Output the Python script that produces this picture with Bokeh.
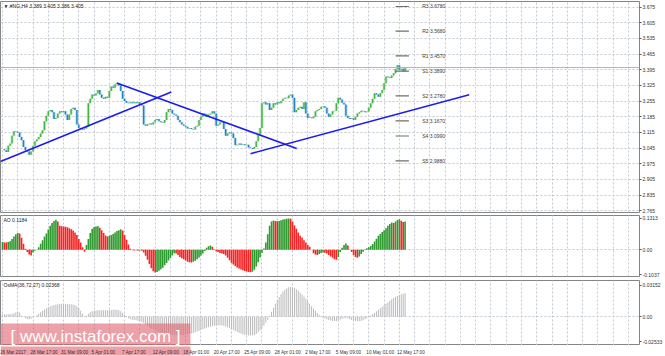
from bokeh.plotting import figure
from bokeh.layouts import column
from bokeh.models import FixedTicker, NumeralTickFormatter, Label, Range1d, Span, BoxAnnotation
from bokeh.embed import file_html
from bokeh.resources import INLINE
from bokeh.core.properties import value

# ---------------- data ----------------
chart_title = "\u25bc #NG,H4 3.389 3.405 3.386 3.405"
last_price = 3.405

closes = [
    3.040, 3.035, 3.028, 3.055, 3.065, 3.100, 3.120, 3.118, 3.115, 3.095,
    3.080, 3.050, 3.035, 3.030, 3.015, 3.030, 3.055, 3.075, 3.085, 3.095,
    3.110, 3.125, 3.165, 3.190, 3.210, 3.215, 3.205, 3.175, 3.180, 3.200,
    3.210, 3.205, 3.210, 3.195, 3.170, 3.195, 3.220, 3.225, 3.215, 3.150,
    3.135, 3.130, 3.128, 3.132, 3.140, 3.245, 3.265, 3.285, 3.280, 3.290,
    3.305, 3.285, 3.270, 3.265, 3.275, 3.270, 3.300, 3.320, 3.315, 3.330,
    3.335, 3.325, 3.300, 3.265, 3.255, 3.248, 3.245, 3.250, 3.245, 3.250,
    3.245, 3.250, 3.240, 3.235, 3.150, 3.145, 3.152, 3.155, 3.150, 3.160,
    3.170, 3.175, 3.165, 3.160, 3.158, 3.170, 3.205, 3.220, 3.215, 3.200,
    3.195, 3.190, 3.170, 3.160, 3.150, 3.145, 3.140, 3.132, 3.135, 3.130,
    3.128, 3.140, 3.145, 3.170, 3.185, 3.200, 3.195, 3.185, 3.195, 3.200,
    3.210, 3.200, 3.145, 3.150, 3.160, 3.162, 3.130, 3.100, 3.110, 3.115,
    3.110, 3.090, 3.058, 3.060, 3.065, 3.060, 3.062, 3.058, 3.060, 3.048,
    3.045, 3.042, 3.050, 3.075, 3.105, 3.135, 3.245, 3.250, 3.240, 3.245,
    3.215, 3.225, 3.245, 3.240, 3.250, 3.245, 3.255, 3.265, 3.270, 3.268,
    3.280, 3.285, 3.270, 3.205, 3.215, 3.225, 3.230, 3.220, 3.250, 3.200,
    3.180, 3.182, 3.178, 3.185, 3.210, 3.215, 3.220, 3.230, 3.232, 3.225,
    3.200, 3.185, 3.195, 3.210, 3.212, 3.245, 3.270, 3.262, 3.248, 3.240,
    3.190, 3.180, 3.175, 3.178, 3.172, 3.185, 3.200, 3.205, 3.212, 3.210,
    3.205, 3.208, 3.225, 3.245, 3.265, 3.290, 3.285, 3.275, 3.290, 3.305,
    3.335, 3.365, 3.362, 3.358, 3.370, 3.380, 3.398, 3.415, 3.395, 3.400,
    3.389, 3.405,
]

ao_values = [
    0.032, 0.030, 0.030, 0.032, 0.035, 0.045, 0.055, 0.065, 0.070, 0.068,
    0.050, 0.025, 0.004, -0.010, -0.020, -0.024, -0.012, -0.004, 0.000, 0.010,
    0.025, 0.040, 0.055, 0.068, 0.085, 0.100, 0.112, 0.120, 0.125, 0.118,
    0.100, 0.098, 0.097, 0.096, 0.094, 0.090, 0.086, 0.080, 0.072, 0.062,
    0.045, 0.030, 0.010, -0.008, 0.020, 0.045, 0.070, 0.088, 0.095, 0.097,
    0.099, 0.092, 0.082, 0.070, 0.060, 0.055, 0.058, 0.062, 0.066, 0.072,
    0.078, 0.082, 0.086, 0.080, 0.062, 0.042, 0.022, 0.004, -0.002, -0.003,
    -0.002, -0.004, -0.003, -0.004, -0.012, -0.025, -0.042, -0.060, -0.078, -0.090,
    -0.095, -0.093, -0.088, -0.082, -0.075, -0.065, -0.055, -0.045, -0.035, -0.024,
    -0.015, -0.016, -0.022, -0.030, -0.036, -0.040, -0.045, -0.050, -0.052, -0.053,
    -0.050, -0.046, -0.040, -0.032, -0.024, -0.016, -0.005, 0.008, 0.015, 0.018,
    0.012, 0.002, -0.006, -0.010, -0.014, -0.016, -0.018, -0.024, -0.034, -0.044,
    -0.054, -0.062, -0.068, -0.074, -0.079, -0.083, -0.086, -0.089, -0.091, -0.093,
    -0.094, -0.092, -0.084, -0.070, -0.052, -0.032, -0.014, 0.005, 0.030, 0.065,
    0.100, 0.118, 0.122, 0.120, 0.119, 0.120, 0.123, 0.126, 0.128, 0.130,
    0.131, 0.130, 0.118, 0.102, 0.088, 0.072, 0.058, 0.050, 0.040, 0.030,
    0.020, 0.012, 0.000, -0.015, -0.020, -0.022, -0.018, -0.014, -0.012, -0.013,
    -0.016, -0.022, -0.028, -0.034, -0.040, -0.042, -0.030, -0.010, 0.008, 0.020,
    0.026, 0.018, 0.000, -0.010, -0.022, -0.030, -0.034, -0.028, -0.018, -0.008,
    0.002, 0.006, 0.010, 0.016, 0.024, 0.034, 0.046, 0.058, 0.066, 0.074,
    0.082, 0.090, 0.100, 0.108, 0.114, 0.112, 0.118, 0.124, 0.127, 0.121,
    0.116, 0.1184,
]

osma_values = [
    0.0025, 0.0025, 0.0024, 0.0025, 0.0027, 0.0030, 0.0035,
    0.0045, 0.0048, 0.0042,
    0.0010, -0.0005, -0.0015, -0.0022, -0.0025, -0.0020,
    -0.0010, 0.0000, 0.0015, 0.0030, 0.0045, 0.0058,
    0.0070, 0.0085, 0.0095, 0.0105, 0.0112, 0.0118, 0.0122,
    0.0125, 0.0128, 0.0130, 0.0131, 0.0130, 0.0128, 0.0126, 0.0125, 0.0122, 0.0118,
    0.0105, 0.0088, 0.0060,
    0.0030, 0.0005, 0.0010,
    0.0030, 0.0045, 0.0055, 0.0060, 0.0063, 0.0065,
    0.0066, 0.0065, 0.0064, 0.0065, 0.0066, 0.0066, 0.0068, 0.0070, 0.0072, 0.0070, 0.0066,
    0.0055, 0.0040, 0.0022, 0.0005,
    -0.0015, -0.0025, -0.0030, -0.0032,
    -0.0035, -0.0040, -0.0045, -0.0052, -0.0060,
    -0.0075, -0.0090, -0.0105, -0.0118, -0.0130, -0.0140, -0.0148, -0.0155, -0.0162,
    -0.0168, -0.0172, -0.0176, -0.0180, -0.0183, -0.0185, -0.0186, -0.0187, -0.0187,
    -0.0186, -0.0185, -0.0183, -0.0180, -0.0176,
    -0.0172, -0.0168, -0.0163, -0.0157, -0.0150, -0.0142, -0.0134, -0.0126,
    -0.0118, -0.0110, -0.0104, -0.0098, -0.0094, -0.0090, -0.0088, -0.0087, -0.0086, -0.0087, -0.0092,
    -0.0098, -0.0106, -0.0115, -0.0125, -0.0135, -0.0145, -0.0155,
    -0.0163, -0.0170, -0.0176, -0.0181, -0.0185, -0.0188, -0.0190, -0.0189, -0.0185,
    -0.0175, -0.0160, -0.0140, -0.0115, -0.0088, -0.0060,
    -0.0030,
    0.0010, 0.0050, 0.0090, 0.0130, 0.0165, 0.0198, 0.0228, 0.0253, 0.0273, 0.0288,
    0.0298, 0.0300, 0.0298,
    0.0290, 0.0278, 0.0263, 0.0245, 0.0225, 0.0203, 0.0180, 0.0155, 0.0130, 0.0105, 0.0080,
    0.0058, 0.0038, 0.0020, 0.0005, -0.0008, -0.0018, -0.0026,
    -0.0032, -0.0038, -0.0042, -0.0044, -0.0042, -0.0036,
    -0.0028, -0.0020, -0.0015, -0.0014, -0.0018,
    -0.0025, -0.0032, -0.0038, -0.0043, -0.0046, -0.0046, -0.0043, -0.0036, -0.0026,
    -0.0014, -0.0002, 0.0012, 0.0026,
    0.0040, 0.0055, 0.0070, 0.0085, 0.0100, 0.0115, 0.0130, 0.0145, 0.0160,
    0.0175, 0.0188, 0.0200, 0.0210, 0.0220, 0.0227, 0.0232, 0.02368,
]

price_ticks = [3.675, 3.605, 3.535, 3.465, 3.395, 3.325, 3.255, 3.185,
               3.115, 3.045, 2.975, 2.905, 2.835, 2.765]

pivot_names = ["R3", "R2", "R1", "S1", "S2", "S3", "S4", "S5"]
pivot_levels = [3.6780, 3.5680, 3.4570, 3.3890, 3.2780, 3.1670, 3.0990, 2.9880]

# trend lines: start bar, start price, end bar, end price
trend_x0 = [-1.04, 59.9, 130.0]
trend_y0 = [2.985, 3.336, 3.020]
trend_x1 = [88.5, 154.2, 244.6]
trend_y1 = [3.296, 3.043, 3.283]

ao_title = "AO 0.1184"
ao_ticks = [0.1313, 0.0, -0.1037]
ao_tick_labels = ["0.1313", "0.00", "-0.1037"]

osma_title = "OsMA(36,72,27) 0.02368"
osma_ticks = [0.03152, 0.0, -0.02533]
osma_tick_labels = ["0.03152", "0.00", "-0.02533"]

date_labels = ["26 Mar 2017", "28 Mar 17:00", "31 Mar 09:00", "5 Apr 01:00",
               "7 Apr 17:00", "12 Apr 09:00", "18 Apr 01:00", "20 Apr 17:00",
               "25 Apr 09:00", "28 Apr 01:00", "2 May 17:00", "5 May 09:00",
               "10 May 01:00", "12 May 17:00"]
date_bars = [0, 16, 32, 48, 64, 80, 96, 112, 128, 144, 160, 176, 192, 208]

watermark = "[ www.instaforex.com ]"

# ---------------- layout constants ----------------
FONT = "Liberation Sans"
TINY = "5px"
DATE_FONT = "4.6px"
W = 665
RIGHT = 22
FRAME_W = W - RIGHT
PX_PER_BAR = 1.92
X0_PX = 2.0
GRID = "#c3c9d2"
OUTLINE = "#858585"
UP = "#45b444"
DOWN = "#1f84c6"
WM_COLOR = "#e0606c"
WM_ALPHA = 0.6

xr = Range1d(-X0_PX / PX_PER_BAR, (FRAME_W - X0_PX) / PX_PER_BAR)


def base(height, yr, top, bottom):
    p = figure(width=W, height=height, x_range=xr, y_range=yr,
               output_backend="svg", toolbar_location=None,
               x_axis_location=None, y_axis_location="right",
               min_border_left=0, min_border_right=RIGHT,
               min_border_top=top, min_border_bottom=bottom)
    p.outline_line_color = OUTLINE
    p.outline_line_width = 1
    p.background_fill_color = "white"
    p.border_fill_color = "white"
    ax = p.yaxis[0]
    ax.axis_line_color = None
    ax.major_tick_line_color = "#555555"
    ax.major_tick_out = 2
    ax.major_tick_in = 0
    ax.minor_tick_line_color = None
    ax.major_label_standoff = 1
    ax.major_label_text_font = FONT
    ax.major_label_text_font_size = TINY
    ax.major_label_text_color = "#333333"
    p.xgrid.ticker = FixedTicker(ticks=list(range(0, 340, 8)))
    for g in (p.xgrid, p.ygrid):
        g.grid_line_color = GRID
        g.grid_line_dash = "2 2"
        g.grid_line_width = 1
    return p


def corner_label(p, frame_h, text):
    p.add_layout(Label(x=3, y=frame_h - 1.5, x_units="screen", y_units="screen",
                       text=text, text_font=FONT, text_font_size=TINY,
                       text_color="#222222", text_baseline="top", text_align="left"))


idx = list(range(len(closes)))
opens = [closes[0]] + closes[:-1]
bar_colors = [UP if c >= o else DOWN for o, c in zip(opens, closes)]

# ---------------- main price panel ----------------
p1 = base(213, Range1d(2.757, 3.7003), 1, 1)
p1.yaxis[0].ticker = FixedTicker(ticks=price_ticks)
p1.yaxis[0].formatter = NumeralTickFormatter(format="0.000")
p1.ygrid.ticker = FixedTicker(ticks=price_ticks)

p1.add_layout(Span(location=last_price, dimension="width",
                   line_color="#a7b6c6", line_width=1))
p1.segment(x0=idx, y0=opens, x1=idx, y1=closes, line_color=bar_colors,
           line_width=3.2, line_alpha=0.28)
p1.segment(x0=idx, y0=opens, x1=idx, y1=closes, line_color=bar_colors, line_width=1.4)
p1.segment(x0=trend_x0, y0=trend_y0, x1=trend_x1, y1=trend_y1,
           line_color="#1c1cf0", line_width=1.6)

n_piv = len(pivot_levels)
p1.segment(x0=[206] * n_piv, y0=pivot_levels, x1=[213] * n_piv, y1=pivot_levels,
           line_color="#6e6e6e", line_width=1.2)
p1.text(x=[220] * n_piv, y=pivot_levels,
        text=[f"{n} {v:.4f}" for n, v in zip(pivot_names, pivot_levels)],
        text_font=value(FONT), text_font_size=TINY, text_color="#3a3a3a",
        text_baseline="middle", text_align="left")
corner_label(p1, 211, chart_title)
p1.add_layout(Label(x=FRAME_W + 1, y=last_price, x_units="screen", y_units="data",
                    text=f"{last_price:.3f}", text_font=FONT, text_font_size=TINY,
                    text_color="white", text_baseline="middle", text_align="left",
                    background_fill_color="black", padding=1))

# ---------------- AO panel ----------------
p2 = base(64, Range1d(-0.112, 0.1432), 2, 1)
p2.yaxis[0].ticker = FixedTicker(ticks=ao_ticks)
p2.yaxis[0].major_label_overrides = dict(zip(ao_ticks, ao_tick_labels))
p2.ygrid.ticker = FixedTicker(ticks=[0.0])
ao_colors = ["#2f9a2f"] + ["#2f9a2f" if ao_values[i] > ao_values[i - 1] else "#f52525"
                           for i in range(1, len(ao_values))]
p2.vbar(x=list(range(len(ao_values))), top=ao_values, bottom=0, width=0.85,
        fill_color=ao_colors, line_color=None)
corner_label(p2, 61, ao_title)

# ---------------- OsMA panel ----------------
p3 = base(68, Range1d(-0.0290, 0.0365), 3, 0)
p3.yaxis[0].ticker = FixedTicker(ticks=osma_ticks)
p3.yaxis[0].major_label_overrides = dict(zip(osma_ticks, osma_tick_labels))
p3.ygrid.ticker = FixedTicker(ticks=[0.0])
p3.vbar(x=list(range(len(osma_values))), top=osma_values, bottom=0, width=0.5,
        fill_color="#b8b8b8", line_color=None)
corner_label(p3, 65, osma_title)

# watermark (upper part lives in the OsMA panel, canvas coords of that figure)
p3.add_layout(BoxAnnotation(left=0, right=190, top=46, bottom=80,
                            left_units="canvas", right_units="canvas",
                            top_units="canvas", bottom_units="canvas",
                            fill_color=WM_COLOR, fill_alpha=WM_ALPHA, line_color=None))
p3.add_layout(Label(x=95, y=59, x_units="canvas", y_units="canvas", text=watermark,
                    text_font=FONT, text_font_size="17px", text_color="white",
                    text_align="center", text_baseline="middle"))

# ---------------- date strip ----------------
p4 = figure(width=W, height=11, x_range=xr, y_range=Range1d(0, 11),
            output_backend="svg", toolbar_location=None,
            x_axis_location=None, y_axis_location=None,
            min_border_left=0, min_border_right=RIGHT, min_border_top=0, min_border_bottom=0)
p4.outline_line_color = None
p4.xgrid.visible = False
p4.ygrid.visible = False
p4.background_fill_color = "white"
p4.border_fill_color = "white"
p4.add_layout(BoxAnnotation(left=0, right=190, top=-5, bottom=9,
                            left_units="canvas", right_units="canvas",
                            top_units="canvas", bottom_units="canvas",
                            fill_color=WM_COLOR, fill_alpha=WM_ALPHA, line_color=None,
                            level="underlay"))
LABEL_SHIFT_PX = 2.5
p4.text(x=[b - LABEL_SHIFT_PX / PX_PER_BAR for b in date_bars], y=[5] * len(date_bars),
        text=date_labels, text_font=value(FONT), text_font_size=DATE_FONT,
        text_color="#333333", text_align="left", text_baseline="middle")

layout = column(p1, p2, p3, p4, spacing=0)
open("out.html", "w").write(file_html(layout, INLINE))
